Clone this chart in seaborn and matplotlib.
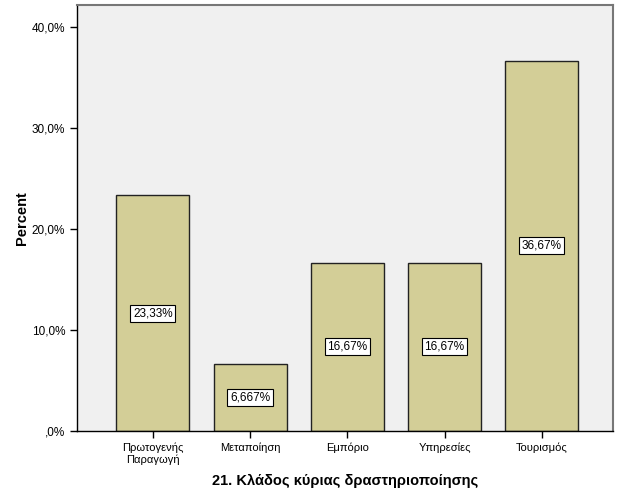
import matplotlib
matplotlib.use('Agg')
import matplotlib.pyplot as plt
import pandas as pd
import seaborn as sns

# Data
categories = ['Πρωτογενής\nΠαραγωγή', 'Μεταποίηση', 'Εμπόριο', 'Υπηρεσίες', 'Τουρισμός']
percents = [23.33, 6.667, 16.67, 16.67, 36.67]
labels = ['23,33%', '6,667%', '16,67%', '16,67%', '36,67%']
yticks = [0, 10, 20, 30, 40]
ytick_labels = [',0%', '10,0%', '20,0%', '30,0%', '40,0%']

df = pd.DataFrame({'category': categories, 'percent': percents})

sns.set_style('white')
plt.rcParams['font.family'] = ['Liberation Sans', 'DejaVu Sans']
plt.rcParams['text.color'] = 'black'
plt.rcParams['axes.labelcolor'] = 'black'
plt.rcParams['xtick.color'] = 'black'
plt.rcParams['ytick.color'] = 'black'

fig = plt.figure(figsize=(6.26, 5.01), dpi=100)
ax = fig.add_axes([0.123, 0.14, 0.856, 0.85])
ax.set_facecolor('#f0f0f0')

sns.barplot(data=df, x='category', y='percent', ax=ax, color='#d3ce97',
            saturation=1, width=0.75, edgecolor='#222222', linewidth=1)

for i, (v, lab) in enumerate(zip(percents, labels)):
    ax.text(i, v / 2, lab, ha='center', va='center', fontsize=8.5,
            bbox=dict(boxstyle='square,pad=0.22', facecolor='white', edgecolor='black', linewidth=0.8))

ax.set_xlim(-0.78, 4.73)
ax.set_ylim(0, 42.2)
ax.set_yticks(yticks)
ax.set_yticklabels(ytick_labels, fontsize=8.5)
ax.tick_params(axis='x', labelsize=8, length=5, width=1, direction='out', bottom=True)
ax.tick_params(axis='y', length=5, width=1, direction='out', left=True)

for side in ['left', 'bottom']:
    ax.spines[side].set_color('black')
    ax.spines[side].set_linewidth(1)
for side in ['top', 'right']:
    ax.spines[side].set_color('#777777')
    ax.spines[side].set_linewidth(1.5)

ax.set_ylabel('Percent', fontsize=10.5, fontweight='bold', labelpad=2)
ax.set_xlabel('21. Κλάδος κύριας δραστηριοποίησης', fontsize=10.5, fontweight='bold', labelpad=6)

fig.savefig('out.png', dpi=100)
